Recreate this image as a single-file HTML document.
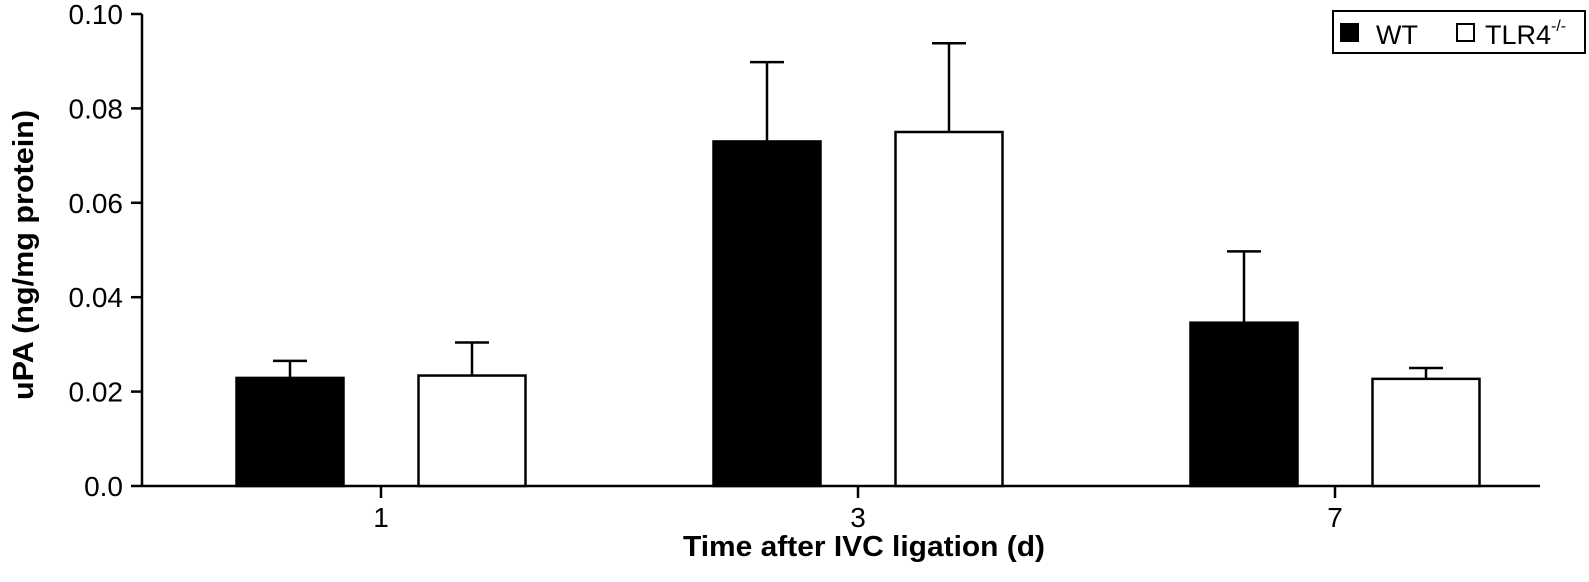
<!DOCTYPE html>
<html><head><meta charset="utf-8"><style>
html,body{margin:0;padding:0;background:#fff;width:1589px;height:582px;overflow:hidden;}
svg{display:block;font-family:"Liberation Sans",Arial,sans-serif;}
</style></head><body>
<svg id="chart" width="1589" height="582" viewBox="0 0 1589 582" xmlns="http://www.w3.org/2000/svg">
<text x="864" y="556" text-anchor="middle" font-size="29" font-weight="bold" textLength="362" lengthAdjust="spacingAndGlyphs">Time after IVC ligation (d)</text>
<text transform="translate(33,255) rotate(-90)" text-anchor="middle" font-size="29" font-weight="bold" textLength="290" lengthAdjust="spacingAndGlyphs">uPA (ng/mg protein)</text>
<g>
<rect x="1333" y="11" width="252" height="42" fill="#fff" stroke="#000" stroke-width="2"/>
<rect x="1340" y="23" width="19" height="19" fill="#000"/>
<text x="1376" y="44" font-size="27">WT</text>
<rect x="1457" y="24" width="17" height="17" fill="#fff" stroke="#000" stroke-width="2"/>
<text x="1485" y="44" font-size="27">TLR4<tspan dy="-13" font-size="16">-/-</tspan></text>
</g>
</svg>
<script>
const categories = ["1","3","7"];
const wtValues = [0.0229, 0.0730, 0.0346];
const wtErrors = [0.0036, 0.0168, 0.0151];
const tlrValues = [0.0234, 0.0750, 0.0227];
const tlrErrors = [0.0070, 0.0188, 0.0023];
const yTicks = [0, 0.02, 0.04, 0.06, 0.08, 0.10];
const yTickLabels = ["0.0","0.02","0.04","0.06","0.08","0.10"];

const NS="http://www.w3.org/2000/svg";
const svg=document.getElementById('chart');
const x0=142, x1=1540, yBase=486, yTop=14;
function y(v){return yBase-(v/0.10)*(yBase-yTop);}
function xc(i){return 381+i*477;}
function mk(t,a,p){const e=document.createElementNS(NS,t);for(const k in a)e.setAttribute(k,a[k]);(p||svg).appendChild(e);return e;}

const ya=mk('line',{x1:x0,y1:yTop,x2:x0,y2:yBase+1,stroke:'#000','stroke-width':2.5});


const xa=mk('line',{x1:x0,y1:yBase,x2:x1,y2:yBase,stroke:'#000','stroke-width':2.5});



yTicks.forEach((v,i)=>{
  const t=mk('line',{x1:x0-11,y1:y(v),x2:x0,y2:y(v),stroke:'#000','stroke-width':2.5});
  
  
  const l=mk('text',{x:x0-19,y:y(v)+10,'text-anchor':'end','font-size':28});
  l.textContent=yTickLabels[i];
  
  
});

const bw=107, off=91;
function bar(cx,v,err,fill,name){
  const r=mk('rect',{x:cx-bw/2,y:y(v),width:bw,height:yBase-y(v),fill:fill,stroke:'#000','stroke-width':2.5});
  
  
  const e=mk('path',{d:`M${cx},${y(v)} V${y(v+err)} M${cx-17},${y(v+err)} H${cx+17}`,stroke:'#000','stroke-width':2.5,fill:'none'});
  
  
}
categories.forEach((c,i)=>{
  const cx=xc(i);
  bar(cx-off,wtValues[i],wtErrors[i],'#000','bar-wt-day'+c);
  bar(cx+off,tlrValues[i],tlrErrors[i],'#fff','bar-tlr4-day'+c);
  const t=mk('line',{x1:cx,y1:yBase,x2:cx,y2:yBase+12,stroke:'#000','stroke-width':2.5});
  
  
  const l=mk('text',{x:cx,y:yBase+41,'text-anchor':'middle','font-size':28});
  l.textContent=c;
  
  
});
</script>
</body></html>
